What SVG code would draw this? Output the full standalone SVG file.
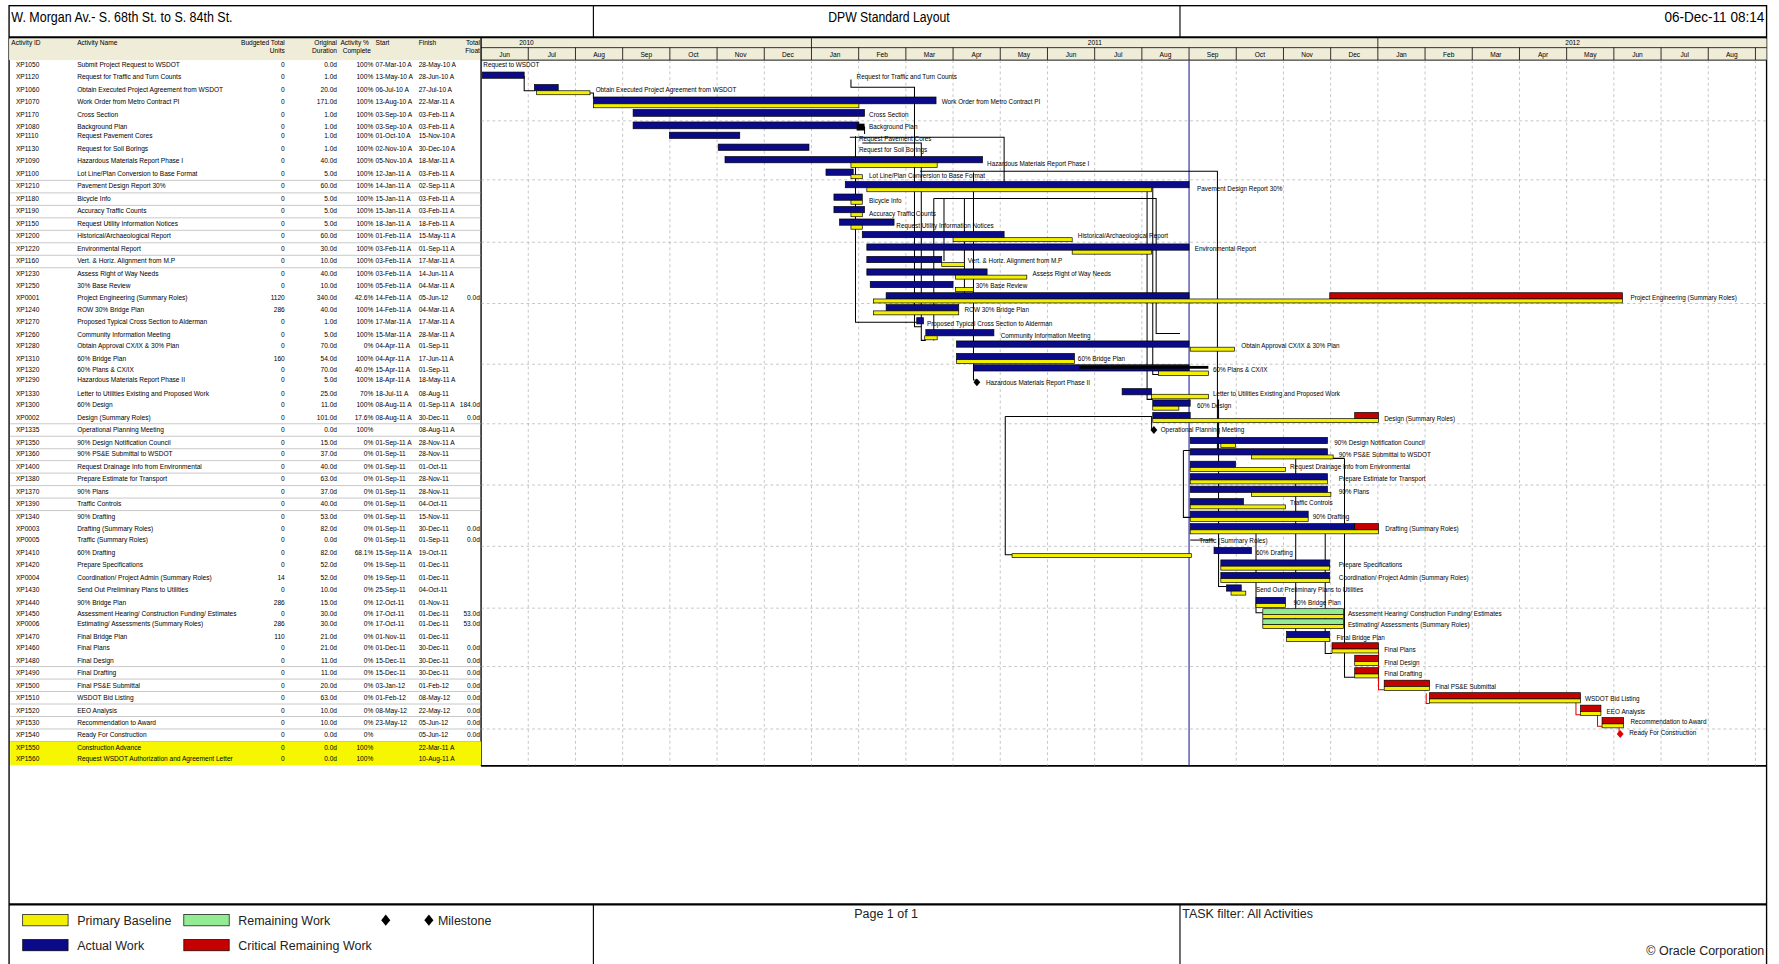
<svg xmlns="http://www.w3.org/2000/svg" width="1779" height="964" viewBox="0 0 1779 964">
<defs>
<style>
.t{font-family:'Liberation Sans Narrow','Liberation Sans',Arial,sans-serif;font-size:5.8px;fill:#000}
.e{text-anchor:end}
.c{text-anchor:middle}
.cl{font-family:'Liberation Sans Narrow','Liberation Sans',Arial,sans-serif;font-size:5.6px;fill:#000}
.act{fill:#0b0b8a;stroke:#000;stroke-width:0.6}
.bas{fill:#f2f000;stroke:#000;stroke-width:0.6}
.crt{fill:#c40000;stroke:#000;stroke-width:0.6}
.rem{fill:#93ec93;stroke:#000;stroke-width:0.6}
.con{fill:none;stroke:#000;stroke-width:0.9}
.rc{fill:none;stroke:#e00000;stroke-width:0.9}
.grid{fill:none;stroke:#9a9a9a;stroke-width:0.5;stroke-dasharray:2.5 2.5}
.sel{fill:none;stroke:#a0a0a0;stroke-width:0.5}
.hdr{fill:#efecd8}
.bd{fill:none;stroke:#000;stroke-width:1.2}
.big{font-family:'Liberation Sans Narrow','Liberation Sans',Arial,sans-serif;font-size:12.5px;fill:#000}
.lg{font-family:'Liberation Sans Narrow','Liberation Sans',Arial,sans-serif;font-size:11px;fill:#222}
</style>
<path id="ms" d="M0,-3.5L3,0L0,3.5L-3,0Z"/>
<path id="msl" d="M0,-5L4,0L0,5L-4,0Z"/>
</defs>
<rect width="1779" height="964" fill="#fff"/>
<g transform="scale(1.1346)">
<g id="frame">
<rect class="bd" x="8" y="5" width="1549" height="860"/>
<line x1="8" y1="33" x2="1557" y2="33" stroke="#000" stroke-width="2"/>
<line x1="523" y1="5" x2="523" y2="33" stroke="#000" stroke-width="1"/>
<line x1="1040" y1="5" x2="1040" y2="33" stroke="#000" stroke-width="1"/>
<text class="big" x="10" y="19" textLength="195" lengthAdjust="spacingAndGlyphs">W. Morgan Av.- S. 68th St. to S. 84th St.</text>
<text class="big" x="730" y="19" textLength="107" lengthAdjust="spacingAndGlyphs">DPW Standard Layout</text>
<text class="big" x="1467" y="19" textLength="88" lengthAdjust="spacingAndGlyphs">06-Dec-11 08:14</text>
<rect class="hdr" x="8" y="34" width="416" height="19"/>
<rect class="hdr" x="424" y="34" width="1133" height="8"/>
<rect class="hdr" x="424" y="42" width="1133" height="11"/>
<line x1="424" y1="42" x2="1557" y2="42" stroke="#000" stroke-width="0.7"/>
<line x1="424" y1="53" x2="1557" y2="53" stroke="#000" stroke-width="0.8"/>
<line x1="424" y1="33" x2="424" y2="675" stroke="#000" stroke-width="1.2"/>
<line x1="424" y1="675" x2="1557" y2="675" stroke="#000" stroke-width="1.4"/>
<line x1="8" y1="797" x2="1557" y2="797" stroke="#000" stroke-width="2"/>
<line x1="523" y1="797" x2="523" y2="865" stroke="#000" stroke-width="1"/>
<line x1="1040" y1="797" x2="1040" y2="865" stroke="#000" stroke-width="1"/>
</g>
<g id="table-header">
<text class="t" x="10" y="40">Activity ID</text>
<text class="t" x="68" y="40">Activity Name</text>
<text class="t e" x="251" y="40">Budgeted Total</text>
<text class="t e" x="251" y="47">Units</text>
<text class="t e" x="297" y="40">Original</text>
<text class="t e" x="297" y="47">Duration</text>
<text class="t" x="300" y="40">Activity % </text>
<text class="t" x="302" y="47">Complete</text>
<text class="t" x="331" y="40">Start</text>
<text class="t" x="369" y="40">Finish</text>
<text class="t e" x="423" y="40">Total</text>
<text class="t e" x="423" y="47">Float</text>
</g>
<g id="timescale">
<line x1="715.2" y1="33" x2="715.2" y2="42" stroke="#000" stroke-width="0.7"/>
<line x1="1214.4" y1="33" x2="1214.4" y2="42" stroke="#000" stroke-width="0.7"/>
<text class="t c" x="464" y="40">2010</text>
<text class="t c" x="965" y="40">2011</text>
<text class="t c" x="1386" y="40">2012</text>
<path d="M465.6 42V53M507.2 42V53M548.8 42V53M590.4 42V53M632 42V53M673.6 42V53M715.2 42V53M756.8 42V53M798.4 42V53M840 42V53M881.6 42V53M923.2 42V53M964.8 42V53M1006.4 42V53M1048 42V53M1089.6 42V53M1131.2 42V53M1172.8 42V53M1214.4 42V53M1256 42V53M1297.6 42V53M1339.2 42V53M1380.8 42V53M1422.4 42V53M1464 42V53M1505.6 42V53M1547.2 42V53" stroke="#000" stroke-width="0.7"/>
<g class="t c">
<text x="444.8" y="50">Jun</text><text x="486.4" y="50">Jul</text><text x="528" y="50">Aug</text><text x="569.6" y="50">Sep</text><text x="611.2" y="50">Oct</text><text x="652.8" y="50">Nov</text><text x="694.4" y="50">Dec</text><text x="736" y="50">Jan</text><text x="777.6" y="50">Feb</text><text x="819.2" y="50">Mar</text><text x="860.8" y="50">Apr</text><text x="902.4" y="50">May</text><text x="944" y="50">Jun</text><text x="985.6" y="50">Jul</text><text x="1027.2" y="50">Aug</text><text x="1068.8" y="50">Sep</text><text x="1110.4" y="50">Oct</text><text x="1152" y="50">Nov</text><text x="1193.6" y="50">Dec</text><text x="1235.2" y="50">Jan</text><text x="1276.8" y="50">Feb</text><text x="1318.4" y="50">Mar</text><text x="1360" y="50">Apr</text><text x="1401.6" y="50">May</text><text x="1443.2" y="50">Jun</text><text x="1484.8" y="50">Jul</text><text x="1526.4" y="50">Aug</text>
</g>
</g>
<g id="grid">
<path class="grid" d="M465.6 53V675M507.2 53V675M548.8 53V675M590.4 53V675M632 53V675M673.6 53V675M715.2 53V675M756.8 53V675M798.4 53V675M840 53V675M881.6 53V675M923.2 53V675M964.8 53V675M1006.4 53V675M1089.6 53V675M1131.2 53V675M1172.8 53V675M1214.4 53V675M1256 53V675M1297.6 53V675M1339.2 53V675M1380.8 53V675M1422.4 53V675M1464 53V675M1505.6 53V675M1547.2 53V675"/>
<path class="grid" d="M424 106.5H1557M424 158.5H1557M424 213.5H1557M424 267.5H1557M424 321H1557M424 373.5H1557M424 427.5H1557M424 481.5H1557M424 536H1557M424 587.5H1557M424 642.5H1557"/>
<line x1="1048" y1="53" x2="1048" y2="675" stroke="#2a2aa0" stroke-width="1"/>
</g>
<g id="row-bands">
<rect x="9" y="653.5" width="415" height="21" fill="#f6f600"/>
<path class="sel" d="M9 159H424M9 170H424M9 181H424M9 192H424M9 203H424M9 214H424M9 225H424M9 236H424M9 373.5H424M9 384.5H424M9 395.5H424M9 406H424M9 417H424M9 428H424M9 439H424M9 450H424M9 587.5H424M9 598.5H424M9 609.5H424M9 620.5H424M9 631.5H424M9 642.5H424M9 653.5H424"/>
</g>
<g id="connectors">
<path class="con" d="M462 67V80H471"/>
<path class="con" d="M520 82H523V87"/>
<path class="con" d="M750 70V77H806V288H812"/>
<path class="con" d="M755 112H762V118"/>
<path class="con" d="M754 120V284H808"/>
<path class="con" d="M760 126H812V300H816"/>
<path class="con" d="M749 121H885V166"/>
<path class="con" d="M811 151H1073V398"/>
<path class="con" d="M823 175H1019V294H1040"/>
<path class="con" d="M823 175V300"/>
<path class="con" d="M832 175V230"/>
<path class="con" d="M850 175V259"/>
<path class="con" d="M858 152V335H861"/>
<path class="con" d="M1011 163V352H1016"/>
<path class="con" d="M1016 165V330H1021"/>
<path class="con" d="M886 367H1015V379"/>
<path class="con" d="M886 367V489H892"/>
<path class="con" d="M1043 397H1049M1043 397V456H1049"/>
<path class="con" d="M1074 352V517H1081"/>
<path class="con" d="M1107 463V540H1113"/>
<path class="con" d="M1142 404H1185M1142 404V558H1150"/>
<path class="con" d="M1168 464V576H1174"/>
<path class="con" d="M1185 404V597H1194"/>
<path class="con" d="M1049 476H1070"/>
<path class="rc" d="M1215 574V608H1220"/>
<path class="rc" d="M1215 584V590M1215 595V600"/>
<path class="rc" d="M1257 611V620H1260"/>
<path class="rc" d="M1389 618V630H1393"/>
<path class="rc" d="M1408 629V640H1412"/>
<path class="rc" d="M1427 640V646"/>
</g>
<g id="r00"><text class="t" x="14" y="59">XP1050</text><text class="t" x="68" y="59">Submit Project Request to WSDOT</text><text class="t e" x="251" y="59">0</text><text class="t e" x="297" y="59">0.0d</text><text class="t e" x="329" y="59">100%</text><text class="t" x="331" y="59">07-Mar-10 A</text><text class="t" x="369" y="59">28-May-10 A</text><text class="cl" x="426" y="59">Request to WSDOT</text></g>
<g id="r01"><text class="t" x="14" y="70">XP1120</text><text class="t" x="68" y="70">Request for Traffic and Turn Counts</text><text class="t e" x="251" y="70">0</text><text class="t e" x="297" y="70">1.0d</text><text class="t e" x="329" y="70">100%</text><text class="t" x="331" y="70">13-May-10 A</text><text class="t" x="369" y="70">28-Jun-10 A</text><rect class="act" x="425" y="63.5" width="37" height="5.5"/><text class="cl" x="755" y="70">Request for Traffic and Turn Counts</text></g>
<g id="r02"><text class="t" x="14" y="81">XP1060</text><text class="t" x="68" y="81">Obtain Executed Project Agreement from WSDOT</text><text class="t e" x="251" y="81">0</text><text class="t e" x="297" y="81">20.0d</text><text class="t e" x="329" y="81">100%</text><text class="t" x="331" y="81">06-Jul-10 A</text><text class="t" x="369" y="81">27-Jul-10 A</text><rect class="act" x="471" y="74.5" width="21" height="5.5"/><rect class="bas" x="473" y="80" width="47" height="3.5"/><text class="cl" x="525" y="81">Obtain Executed Project Agreement from WSDOT</text></g>
<g id="r03"><text class="t" x="14" y="92">XP1070</text><text class="t" x="68" y="92">Work Order from Metro Contract PI</text><text class="t e" x="251" y="92">0</text><text class="t e" x="297" y="92">171.0d</text><text class="t e" x="329" y="92">100%</text><text class="t" x="331" y="92">13-Aug-10 A</text><text class="t" x="369" y="92">22-Mar-11 A</text><rect class="act" x="523" y="85.5" width="302" height="6"/><rect class="bas" x="523" y="91.5" width="234" height="3.5"/><text class="cl" x="830" y="92">Work Order from Metro Contract PI</text></g>
<g id="r04"><text class="t" x="14" y="103">XP1170</text><text class="t" x="68" y="103">Cross Section</text><text class="t e" x="251" y="103">0</text><text class="t e" x="297" y="103">1.0d</text><text class="t e" x="329" y="103">100%</text><text class="t" x="331" y="103">03-Sep-10 A</text><text class="t" x="369" y="103">03-Feb-11 A</text><rect class="act" x="558" y="96.5" width="204" height="6"/><text class="cl" x="766" y="103">Cross Section</text></g>
<g id="r05"><text class="t" x="14" y="114">XP1080</text><text class="t" x="68" y="114">Background Plan</text><text class="t e" x="251" y="114">0</text><text class="t e" x="297" y="114">1.0d</text><text class="t e" x="329" y="114">100%</text><text class="t" x="331" y="114">03-Sep-10 A</text><text class="t" x="369" y="114">03-Feb-11 A</text><rect class="act" x="558" y="107.5" width="199" height="6"/><rect x="755" y="109" width="7" height="6" fill="#000"/><text class="cl" x="766" y="114">Background Plan</text></g>
<g id="r06"><text class="t" x="14" y="122">XP1110</text><text class="t" x="68" y="122">Request Pavement Cores</text><text class="t e" x="251" y="122">0</text><text class="t e" x="297" y="122">1.0d</text><text class="t e" x="329" y="122">100%</text><text class="t" x="331" y="122">01-Oct-10 A</text><text class="t" x="369" y="122">15-Nov-10 A</text><rect class="act" x="590" y="116.5" width="62" height="5.5"/><text class="cl" x="757" y="124">Request Pavement Cores</text></g>
<g id="r07"><text class="t" x="14" y="133">XP1130</text><text class="t" x="68" y="133">Request for Soil Borings</text><text class="t e" x="251" y="133">0</text><text class="t e" x="297" y="133">1.0d</text><text class="t e" x="329" y="133">100%</text><text class="t" x="331" y="133">02-Nov-10 A</text><text class="t" x="369" y="133">30-Dec-10 A</text><rect class="act" x="633" y="127" width="80" height="5.5"/><text class="cl" x="757" y="134">Request for Soil Borings</text></g>
<g id="r08"><text class="t" x="14" y="144">XP1090</text><text class="t" x="68" y="144">Hazardous Materials Report Phase I</text><text class="t e" x="251" y="144">0</text><text class="t e" x="297" y="144">40.0d</text><text class="t e" x="329" y="144">100%</text><text class="t" x="331" y="144">05-Nov-10 A</text><text class="t" x="369" y="144">18-Mar-11 A</text><rect class="act" x="639" y="138" width="227" height="5.5"/><rect class="bas" x="750" y="143.5" width="76" height="4"/><text class="cl" x="870" y="146">Hazardous Materials Report Phase I</text></g>
<g id="r09"><text class="t" x="14" y="155">XP1100</text><text class="t" x="68" y="155">Lot Line/Plan Conversion to Base Format</text><text class="t e" x="251" y="155">0</text><text class="t e" x="297" y="155">5.0d</text><text class="t e" x="329" y="155">100%</text><text class="t" x="331" y="155">12-Jan-11 A</text><text class="t" x="369" y="155">03-Feb-11 A</text><rect class="act" x="728" y="149" width="24" height="5.5"/><rect class="bas" x="750" y="154" width="10" height="3.5"/><text class="cl" x="766" y="157">Lot Line/Plan Conversion to Base Format</text></g>
<g id="r10"><text class="t" x="14" y="166">XP1210</text><text class="t" x="68" y="166">Pavement Design Report 30%</text><text class="t e" x="251" y="166">0</text><text class="t e" x="297" y="166">60.0d</text><text class="t e" x="329" y="166">100%</text><text class="t" x="331" y="166">14-Jan-11 A</text><text class="t" x="369" y="166">02-Sep-11 A</text><rect class="act" x="745" y="160" width="303" height="5.5"/><rect class="bas" x="764" y="165.5" width="251" height="3.5"/><text class="cl" x="1055" y="168">Pavement Design Report 30%</text></g>
<g id="r11"><text class="t" x="14" y="177">XP1180</text><text class="t" x="68" y="177">Bicycle Info</text><text class="t e" x="251" y="177">0</text><text class="t e" x="297" y="177">5.0d</text><text class="t e" x="329" y="177">100%</text><text class="t" x="331" y="177">15-Jan-11 A</text><text class="t" x="369" y="177">03-Feb-11 A</text><rect class="act" x="735" y="171" width="25" height="5.5"/><rect class="bas" x="750" y="176.5" width="10" height="3.5"/><text class="cl" x="766" y="179">Bicycle Info</text></g>
<g id="r12"><text class="t" x="14" y="188">XP1190</text><text class="t" x="68" y="188">Accuracy Traffic Counts</text><text class="t e" x="251" y="188">0</text><text class="t e" x="297" y="188">5.0d</text><text class="t e" x="329" y="188">100%</text><text class="t" x="331" y="188">15-Jan-11 A</text><text class="t" x="369" y="188">03-Feb-11 A</text><rect class="act" x="735" y="182" width="27" height="5.5"/><rect class="bas" x="750" y="187.5" width="10" height="3.5"/><text class="cl" x="766" y="190">Accuracy Traffic Counts</text></g>
<g id="r13"><text class="t" x="14" y="199">XP1150</text><text class="t" x="68" y="199">Request Utility Information Notices</text><text class="t e" x="251" y="199">0</text><text class="t e" x="297" y="199">5.0d</text><text class="t e" x="329" y="199">100%</text><text class="t" x="331" y="199">18-Jan-11 A</text><text class="t" x="369" y="199">18-Feb-11 A</text><rect class="act" x="740" y="193" width="48" height="5.5"/><rect class="bas" x="750" y="198.5" width="10" height="3.5"/><text class="cl" x="790" y="201">Request Utility Information Notices</text></g>
<g id="r14"><text class="t" x="14" y="210">XP1200</text><text class="t" x="68" y="210">Historical/Archaeological Report</text><text class="t e" x="251" y="210">0</text><text class="t e" x="297" y="210">60.0d</text><text class="t e" x="329" y="210">100%</text><text class="t" x="331" y="210">01-Feb-11 A</text><text class="t" x="369" y="210">15-May-11 A</text><rect class="act" x="760" y="204" width="125" height="5.5"/><rect class="bas" x="840" y="209.5" width="105" height="3.5"/><text class="cl" x="950" y="210">Historical/Archaeological Report</text></g>
<g id="r15"><text class="t" x="14" y="221">XP1220</text><text class="t" x="68" y="221">Environmental Report</text><text class="t e" x="251" y="221">0</text><text class="t e" x="297" y="221">30.0d</text><text class="t e" x="329" y="221">100%</text><text class="t" x="331" y="221">03-Feb-11 A</text><text class="t" x="369" y="221">01-Sep-11 A</text><rect class="act" x="764" y="215" width="284" height="5.5"/><rect class="bas" x="945" y="220.5" width="70" height="3.5"/><text class="cl" x="1053" y="221">Environmental Report</text></g>
<g id="r16"><text class="t" x="14" y="232">XP1160</text><text class="t" x="68" y="232">Vert. &amp; Horiz. Alignment from M.P</text><text class="t e" x="251" y="232">0</text><text class="t e" x="297" y="232">10.0d</text><text class="t e" x="329" y="232">100%</text><text class="t" x="331" y="232">03-Feb-11 A</text><text class="t" x="369" y="232">17-Mar-11 A</text><rect class="act" x="764" y="226" width="66" height="5.5"/><rect class="bas" x="830" y="231.5" width="20" height="3.5"/><text class="cl" x="853" y="232">Vert. &amp; Horiz. Alignment from M.P</text></g>
<g id="r17"><text class="t" x="14" y="243">XP1230</text><text class="t" x="68" y="243">Assess Right of Way Needs</text><text class="t e" x="251" y="243">0</text><text class="t e" x="297" y="243">40.0d</text><text class="t e" x="329" y="243">100%</text><text class="t" x="331" y="243">03-Feb-11 A</text><text class="t" x="369" y="243">14-Jun-11 A</text><rect class="act" x="764" y="237" width="106" height="5.5"/><rect class="bas" x="842" y="242.5" width="63" height="3.5"/><text class="cl" x="910" y="243">Assess Right of Way Needs</text></g>
<g id="r18"><text class="t" x="14" y="254">XP1250</text><text class="t" x="68" y="254">30% Base Review</text><text class="t e" x="251" y="254">0</text><text class="t e" x="297" y="254">10.0d</text><text class="t e" x="329" y="254">100%</text><text class="t" x="331" y="254">05-Feb-11 A</text><text class="t" x="369" y="254">04-Mar-11 A</text><rect class="act" x="767" y="248" width="73" height="5.5"/><rect class="bas" x="842" y="253.5" width="16" height="3.5"/><text class="cl" x="860" y="254">30% Base Review</text></g>
<g id="r19"><text class="t" x="14" y="264">XP0001</text><text class="t" x="68" y="264">Project Engineering (Summary Roles)</text><text class="t e" x="251" y="264">1120</text><text class="t e" x="297" y="264">340.0d</text><text class="t e" x="329" y="264">42.6%</text><text class="t" x="331" y="264">14-Feb-11 A</text><text class="t" x="369" y="264">05-Jun-12</text><text class="t e" x="423" y="264">0.0d</text><rect class="act" x="781" y="258" width="267" height="5.5"/><rect class="crt" x="1172" y="258" width="258" height="5.5"/><rect class="bas" x="770" y="263.5" width="660" height="3.5"/><text class="cl" x="1437" y="264">Project Engineering (Summary Roles)</text></g>
<g id="r20"><text class="t" x="14" y="275">XP1240</text><text class="t" x="68" y="275">ROW 30% Bridge Plan</text><text class="t e" x="251" y="275">286</text><text class="t e" x="297" y="275">40.0d</text><text class="t e" x="329" y="275">100%</text><text class="t" x="331" y="275">14-Feb-11 A</text><text class="t" x="369" y="275">04-Mar-11 A</text><rect class="act" x="781" y="268.5" width="64" height="5.5"/><rect class="bas" x="770" y="274" width="75" height="3.5"/><text class="cl" x="850" y="275">ROW 30% Bridge Plan</text></g>
<g id="r21"><text class="t" x="14" y="286">XP1270</text><text class="t" x="68" y="286">Proposed Typical Cross Section to Alderman</text><text class="t e" x="251" y="286">0</text><text class="t e" x="297" y="286">1.0d</text><text class="t e" x="329" y="286">100%</text><text class="t" x="331" y="286">17-Mar-11 A</text><text class="t" x="369" y="286">17-Mar-11 A</text><rect class="act" x="808" y="280" width="6" height="5.5"/><text class="cl" x="817" y="287">Proposed Typical Cross Section to Alderman</text></g>
<g id="r22"><text class="t" x="14" y="297">XP1260</text><text class="t" x="68" y="297">Community Information Meeting</text><text class="t e" x="251" y="297">0</text><text class="t e" x="297" y="297">5.0d</text><text class="t e" x="329" y="297">100%</text><text class="t" x="331" y="297">15-Mar-11 A</text><text class="t" x="369" y="297">28-Mar-11 A</text><rect class="act" x="816" y="290.5" width="60" height="5.5"/><rect class="bas" x="815" y="296" width="11" height="3.5"/><text class="cl" x="882" y="298">Community Information Meeting</text></g>
<g id="r23"><text class="t" x="14" y="307">XP1280</text><text class="t" x="68" y="307">Obtain Approval CX/IX &amp; 30% Plan</text><text class="t e" x="251" y="307">0</text><text class="t e" x="297" y="307">70.0d</text><text class="t e" x="329" y="307">0%</text><text class="t" x="331" y="307">04-Apr-11 A</text><text class="t" x="369" y="307">01-Sep-11</text><rect class="act" x="843" y="300.5" width="205" height="5.5"/><rect class="bas" x="1049" y="306" width="39" height="3.5"/><text class="cl" x="1094" y="307">Obtain Approval CX/IX &amp; 30% Plan</text></g>
<g id="r24"><text class="t" x="14" y="318">XP1310</text><text class="t" x="68" y="318">60% Bridge Plan</text><text class="t e" x="251" y="318">160</text><text class="t e" x="297" y="318">54.0d</text><text class="t e" x="329" y="318">100%</text><text class="t" x="331" y="318">04-Apr-11 A</text><text class="t" x="369" y="318">17-Jun-11 A</text><rect class="act" x="843" y="311.5" width="104" height="5.5"/><rect class="bas" x="843" y="317" width="104" height="3.5"/><text class="cl" x="950" y="318">60% Bridge Plan</text></g>
<g id="r25"><text class="t" x="14" y="328">XP1320</text><text class="t" x="68" y="328">60% Plans &amp; CX/IX</text><text class="t e" x="251" y="328">0</text><text class="t e" x="297" y="328">70.0d</text><text class="t e" x="329" y="328">40.0%</text><text class="t" x="331" y="328">15-Apr-11 A</text><text class="t" x="369" y="328">01-Sep-11</text><rect class="act" x="858" y="321.5" width="190" height="5.5"/><rect x="951" y="322.5" width="114" height="2.5" fill="#000"/><rect class="bas" x="1021" y="327" width="44" height="4"/><text class="cl" x="1069" y="328">60% Plans &amp; CX/IX</text></g>
<g id="r26"><text class="t" x="14" y="337">XP1290</text><text class="t" x="68" y="337">Hazardous Materials Report Phase II</text><text class="t e" x="251" y="337">0</text><text class="t e" x="297" y="337">5.0d</text><text class="t e" x="329" y="337">100%</text><text class="t" x="331" y="337">18-Apr-11 A</text><text class="t" x="369" y="337">18-May-11 A</text><use href="#ms" x="861" y="337" fill="#000"/><text class="cl" x="869" y="339">Hazardous Materials Report Phase II</text></g>
<g id="r27"><text class="t" x="14" y="349">XP1330</text><text class="t" x="68" y="349">Letter to Utilities Existing and Proposed Work</text><text class="t e" x="251" y="349">0</text><text class="t e" x="297" y="349">25.0d</text><text class="t e" x="329" y="349">70%</text><text class="t" x="331" y="349">18-Jul-11 A</text><text class="t" x="369" y="349">08-Aug-11</text><rect class="act" x="989" y="342.5" width="26" height="5.5"/><rect class="bas" x="1015" y="347.5" width="50" height="4"/><text class="cl" x="1069" y="349">Letter to Utilities Existing and Proposed Work</text></g>
<g id="r28"><text class="t" x="14" y="359">XP1300</text><text class="t" x="68" y="359">60% Design</text><text class="t e" x="251" y="359">0</text><text class="t e" x="297" y="359">11.0d</text><text class="t e" x="329" y="359">100%</text><text class="t" x="331" y="359">08-Aug-11 A</text><text class="t" x="369" y="359">01-Sep-11 A</text><text class="t e" x="423" y="359">184.0d</text><rect class="act" x="1016" y="352.5" width="33" height="5.5"/><rect class="bas" x="1016" y="358" width="23" height="3.5"/><text class="cl" x="1055" y="360">60% Design</text></g>
<g id="r29"><text class="t" x="14" y="370">XP0002</text><text class="t" x="68" y="370">Design (Summary Roles)</text><text class="t e" x="251" y="370">0</text><text class="t e" x="297" y="370">101.0d</text><text class="t e" x="329" y="370">17.6%</text><text class="t" x="331" y="370">08-Aug-11 A</text><text class="t" x="369" y="370">30-Dec-11</text><text class="t e" x="423" y="370">0.0d</text><rect class="act" x="1016" y="363.5" width="33" height="5.5"/><rect class="crt" x="1194" y="363.5" width="21" height="5.5"/><rect class="bas" x="1016" y="369" width="199" height="3.5"/><text class="cl" x="1220" y="371">Design (Summary Roles)</text></g>
<g id="r30"><text class="t" x="14" y="381">XP1335</text><text class="t" x="68" y="381">Operational Planning Meeting</text><text class="t e" x="251" y="381">0</text><text class="t e" x="297" y="381">0.0d</text><text class="t e" x="329" y="381">100%</text><text class="t" x="369" y="381">08-Aug-11 A</text><use href="#ms" x="1017" y="379" fill="#000"/><text class="cl" x="1023" y="381">Operational Planning Meeting</text></g>
<g id="r31"><text class="t" x="14" y="392">XP1350</text><text class="t" x="68" y="392">90% Design Notification Council</text><text class="t e" x="251" y="392">0</text><text class="t e" x="297" y="392">15.0d</text><text class="t e" x="329" y="392">0%</text><text class="t" x="331" y="392">01-Sep-11 A</text><text class="t" x="369" y="392">28-Nov-11 A</text><rect class="act" x="1049" y="385.5" width="121" height="5.5"/><rect class="bas" x="1076" y="391" width="13" height="3.5"/><text class="cl" x="1176" y="392">90% Design Notification Council</text></g>
<g id="r32"><text class="t" x="14" y="402">XP1360</text><text class="t" x="68" y="402">90% PS&amp;E Submittal to WSDOT</text><text class="t e" x="251" y="402">0</text><text class="t e" x="297" y="402">37.0d</text><text class="t e" x="329" y="402">0%</text><text class="t" x="331" y="402">01-Sep-11</text><text class="t" x="369" y="402">28-Nov-11</text><rect class="act" x="1049" y="395.5" width="121" height="5.5"/><rect class="bas" x="1103" y="401" width="72" height="3.5"/><text class="cl" x="1180" y="403">90% PS&amp;E Submittal to WSDOT</text></g>
<g id="r33"><text class="t" x="14" y="413">XP1400</text><text class="t" x="68" y="413">Request Drainage Info from Environmental</text><text class="t e" x="251" y="413">0</text><text class="t e" x="297" y="413">40.0d</text><text class="t e" x="329" y="413">0%</text><text class="t" x="331" y="413">01-Sep-11</text><text class="t" x="369" y="413">01-Oct-11</text><rect class="act" x="1049" y="406.5" width="40" height="5.5"/><rect class="bas" x="1049" y="412" width="84" height="3.5"/><text class="cl" x="1137" y="413">Request Drainage Info from Environmental</text></g>
<g id="r34"><text class="t" x="14" y="424">XP1380</text><text class="t" x="68" y="424">Prepare Estimate for Transport</text><text class="t e" x="251" y="424">0</text><text class="t e" x="297" y="424">63.0d</text><text class="t e" x="329" y="424">0%</text><text class="t" x="331" y="424">01-Sep-11</text><text class="t" x="369" y="424">28-Nov-11</text><rect class="act" x="1049" y="417.5" width="121" height="5.5"/><rect class="bas" x="1049" y="423" width="121" height="3.5"/><text class="cl" x="1180" y="424">Prepare Estimate for Transport</text></g>
<g id="r35"><text class="t" x="14" y="435">XP1370</text><text class="t" x="68" y="435">90% Plans</text><text class="t e" x="251" y="435">0</text><text class="t e" x="297" y="435">37.0d</text><text class="t e" x="329" y="435">0%</text><text class="t" x="331" y="435">01-Sep-11</text><text class="t" x="369" y="435">28-Nov-11</text><rect class="act" x="1049" y="428.5" width="121" height="5.5"/><rect class="bas" x="1103" y="434" width="70" height="3.5"/><text class="cl" x="1180" y="435">90% Plans</text></g>
<g id="r36"><text class="t" x="14" y="446">XP1390</text><text class="t" x="68" y="446">Traffic Controls</text><text class="t e" x="251" y="446">0</text><text class="t e" x="297" y="446">40.0d</text><text class="t e" x="329" y="446">0%</text><text class="t" x="331" y="446">01-Sep-11</text><text class="t" x="369" y="446">04-Oct-11</text><rect class="act" x="1049" y="439.5" width="47" height="5.5"/><rect class="bas" x="1049" y="445" width="84" height="3.5"/><text class="cl" x="1137" y="445">Traffic Controls</text></g>
<g id="r37"><text class="t" x="14" y="457">XP1340</text><text class="t" x="68" y="457">90% Drafting</text><text class="t e" x="251" y="457">0</text><text class="t e" x="297" y="457">53.0d</text><text class="t e" x="329" y="457">0%</text><text class="t" x="331" y="457">01-Sep-11</text><text class="t" x="369" y="457">15-Nov-11</text><rect class="act" x="1049" y="450.5" width="104" height="5.5"/><rect class="bas" x="1049" y="456" width="104" height="3.5"/><text class="cl" x="1157" y="457">90% Drafting</text></g>
<g id="r38"><text class="t" x="14" y="468">XP0003</text><text class="t" x="68" y="468">Drafting (Summary Roles)</text><text class="t e" x="251" y="468">0</text><text class="t e" x="297" y="468">82.0d</text><text class="t e" x="329" y="468">0%</text><text class="t" x="331" y="468">01-Sep-11</text><text class="t" x="369" y="468">30-Dec-11</text><text class="t e" x="423" y="468">0.0d</text><rect class="act" x="1049" y="461.5" width="145" height="5.5"/><rect class="crt" x="1194" y="461.5" width="21" height="5.5"/><rect class="bas" x="1049" y="467" width="166" height="3.5"/><text class="cl" x="1221" y="468">Drafting (Summary Roles)</text></g>
<g id="r39"><text class="t" x="14" y="478">XP0005</text><text class="t" x="68" y="478">Traffic (Summary Roles)</text><text class="t e" x="251" y="478">0</text><text class="t e" x="297" y="478">0.0d</text><text class="t e" x="329" y="478">0%</text><text class="t" x="331" y="478">01-Sep-11</text><text class="t" x="369" y="478">01-Sep-11</text><text class="t e" x="423" y="478">0.0d</text><text class="cl" x="1057" y="479">Traffic (Summary Roles)</text></g>
<g id="r40"><text class="t" x="14" y="489">XP1410</text><text class="t" x="68" y="489">60% Drafting</text><text class="t e" x="251" y="489">0</text><text class="t e" x="297" y="489">82.0d</text><text class="t e" x="329" y="489">68.1%</text><text class="t" x="331" y="489">15-Sep-11 A</text><text class="t" x="369" y="489">19-Oct-11</text><rect class="act" x="1070" y="482.5" width="33" height="5.5"/><rect class="bas" x="892" y="488" width="158" height="3.5"/><text class="cl" x="1107" y="489">60% Drafting</text></g>
<g id="r41"><text class="t" x="14" y="500">XP1420</text><text class="t" x="68" y="500">Prepare Specifications</text><text class="t e" x="251" y="500">0</text><text class="t e" x="297" y="500">52.0d</text><text class="t e" x="329" y="500">0%</text><text class="t" x="331" y="500">19-Sep-11</text><text class="t" x="369" y="500">01-Dec-11</text><rect class="act" x="1076" y="493.5" width="96" height="5.5"/><rect class="bas" x="1076" y="499" width="96" height="3.5"/><text class="cl" x="1180" y="500">Prepare Specifications</text></g>
<g id="r42"><text class="t" x="14" y="511">XP0004</text><text class="t" x="68" y="511">Coordination/ Project Admin (Summary Roles)</text><text class="t e" x="251" y="511">14</text><text class="t e" x="297" y="511">52.0d</text><text class="t e" x="329" y="511">0%</text><text class="t" x="331" y="511">19-Sep-11</text><text class="t" x="369" y="511">01-Dec-11</text><rect class="act" x="1076" y="504.5" width="96" height="5.5"/><rect class="bas" x="1076" y="510" width="96" height="3.5"/><text class="cl" x="1180" y="511">Coordination/ Project Admin (Summary Roles)</text></g>
<g id="r43"><text class="t" x="14" y="522">XP1430</text><text class="t" x="68" y="522">Send Out Preliminary Plans to Utilities</text><text class="t e" x="251" y="522">0</text><text class="t e" x="297" y="522">10.0d</text><text class="t e" x="329" y="522">0%</text><text class="t" x="331" y="522">25-Sep-11</text><text class="t" x="369" y="522">04-Oct-11</text><rect class="act" x="1081" y="515.5" width="13" height="5.5"/><rect class="bas" x="1085" y="521" width="13" height="3.5"/><text class="cl" x="1107" y="522">Send Out Preliminary Plans to Utilities</text></g>
<g id="r44"><text class="t" x="14" y="533">XP1440</text><text class="t" x="68" y="533">90% Bridge Plan</text><text class="t e" x="251" y="533">286</text><text class="t e" x="297" y="533">15.0d</text><text class="t e" x="329" y="533">0%</text><text class="t" x="331" y="533">12-Oct-11</text><text class="t" x="369" y="533">01-Nov-11</text><rect class="act" x="1107" y="526.5" width="26" height="5.5"/><rect class="bas" x="1107" y="532" width="26" height="3.5"/><text class="cl" x="1140" y="533">90% Bridge Plan</text></g>
<g id="r45"><text class="t" x="14" y="543">XP1450</text><text class="t" x="68" y="543">Assessment Hearing/ Construction Funding/ Estimates</text><text class="t e" x="251" y="543">0</text><text class="t e" x="297" y="543">30.0d</text><text class="t e" x="329" y="543">0%</text><text class="t" x="331" y="543">17-Oct-11</text><text class="t" x="369" y="543">01-Dec-11</text><text class="t e" x="423" y="543">53.0d</text><rect class="rem" x="1113" y="536.5" width="71" height="5"/><rect class="bas" x="1113" y="541.5" width="71" height="3.5"/><text class="cl" x="1188" y="543">Assessment Hearing/ Construction Funding/ Estimates</text></g>
<g id="r46"><text class="t" x="14" y="552">XP0006</text><text class="t" x="68" y="552">Estimating/ Assessments (Summary Roles)</text><text class="t e" x="251" y="552">286</text><text class="t e" x="297" y="552">30.0d</text><text class="t e" x="329" y="552">0%</text><text class="t" x="331" y="552">17-Oct-11</text><text class="t" x="369" y="552">01-Dec-11</text><text class="t e" x="423" y="552">53.0d</text><rect class="rem" x="1113" y="545.5" width="71" height="5"/><rect class="bas" x="1113" y="550.5" width="71" height="3.5"/><text class="cl" x="1188" y="553">Estimating/ Assessments (Summary Roles)</text></g>
<g id="r47"><text class="t" x="14" y="563">XP1470</text><text class="t" x="68" y="563">Final Bridge Plan</text><text class="t e" x="251" y="563">110</text><text class="t e" x="297" y="563">21.0d</text><text class="t e" x="329" y="563">0%</text><text class="t" x="331" y="563">01-Nov-11</text><text class="t" x="369" y="563">01-Dec-11</text><rect class="act" x="1134" y="556.5" width="38" height="5.5"/><rect class="bas" x="1134" y="562" width="38" height="3.5"/><text class="cl" x="1178" y="564">Final Bridge Plan</text></g>
<g id="r48"><text class="t" x="14" y="573">XP1460</text><text class="t" x="68" y="573">Final Plans</text><text class="t e" x="251" y="573">0</text><text class="t e" x="297" y="573">21.0d</text><text class="t e" x="329" y="573">0%</text><text class="t" x="331" y="573">01-Dec-11</text><text class="t" x="369" y="573">30-Dec-11</text><text class="t e" x="423" y="573">0.0d</text><rect class="crt" x="1174" y="566.5" width="41" height="5.5"/><rect class="bas" x="1174" y="572" width="41" height="3.5"/><text class="cl" x="1220" y="575">Final Plans</text></g>
<g id="r49"><text class="t" x="14" y="584">XP1480</text><text class="t" x="68" y="584">Final Design</text><text class="t e" x="251" y="584">0</text><text class="t e" x="297" y="584">11.0d</text><text class="t e" x="329" y="584">0%</text><text class="t" x="331" y="584">15-Dec-11</text><text class="t" x="369" y="584">30-Dec-11</text><text class="t e" x="423" y="584">0.0d</text><rect class="crt" x="1194" y="577.5" width="21" height="5.5"/><rect class="bas" x="1194" y="583" width="21" height="3.5"/><text class="cl" x="1220" y="586">Final Design</text></g>
<g id="r50"><text class="t" x="14" y="595">XP1490</text><text class="t" x="68" y="595">Final Drafting</text><text class="t e" x="251" y="595">0</text><text class="t e" x="297" y="595">11.0d</text><text class="t e" x="329" y="595">0%</text><text class="t" x="331" y="595">15-Dec-11</text><text class="t" x="369" y="595">30-Dec-11</text><text class="t e" x="423" y="595">0.0d</text><rect class="crt" x="1194" y="588.5" width="21" height="5.5"/><rect class="bas" x="1194" y="594" width="21" height="3.5"/><text class="cl" x="1220" y="596">Final Drafting</text></g>
<g id="r51"><text class="t" x="14" y="606">XP1500</text><text class="t" x="68" y="606">Final PS&amp;E Submittal</text><text class="t e" x="251" y="606">0</text><text class="t e" x="297" y="606">20.0d</text><text class="t e" x="329" y="606">0%</text><text class="t" x="331" y="606">03-Jan-12</text><text class="t" x="369" y="606">01-Feb-12</text><text class="t e" x="423" y="606">0.0d</text><rect class="crt" x="1220" y="599.5" width="40" height="5.5"/><rect class="bas" x="1220" y="605" width="40" height="3.5"/><text class="cl" x="1265" y="607">Final PS&amp;E Submittal</text></g>
<g id="r52"><text class="t" x="14" y="617">XP1510</text><text class="t" x="68" y="617">WSDOT Bid Listing</text><text class="t e" x="251" y="617">0</text><text class="t e" x="297" y="617">63.0d</text><text class="t e" x="329" y="617">0%</text><text class="t" x="331" y="617">01-Feb-12</text><text class="t" x="369" y="617">08-May-12</text><text class="t e" x="423" y="617">0.0d</text><rect class="crt" x="1260" y="610.5" width="133" height="5.5"/><rect class="bas" x="1260" y="616" width="133" height="3.5"/><text class="cl" x="1397" y="618">WSDOT Bid Listing</text></g>
<g id="r53"><text class="t" x="14" y="628">XP1520</text><text class="t" x="68" y="628">EEO Analysis</text><text class="t e" x="251" y="628">0</text><text class="t e" x="297" y="628">10.0d</text><text class="t e" x="329" y="628">0%</text><text class="t" x="331" y="628">08-May-12</text><text class="t" x="369" y="628">22-May-12</text><text class="t e" x="423" y="628">0.0d</text><rect class="crt" x="1393" y="621.5" width="18" height="5.5"/><rect class="bas" x="1393" y="627" width="18" height="3.5"/><text class="cl" x="1416" y="629">EEO Analysis</text></g>
<g id="r54"><text class="t" x="14" y="639">XP1530</text><text class="t" x="68" y="639">Recommendation to Award</text><text class="t e" x="251" y="639">0</text><text class="t e" x="297" y="639">10.0d</text><text class="t e" x="329" y="639">0%</text><text class="t" x="331" y="639">23-May-12</text><text class="t" x="369" y="639">05-Jun-12</text><text class="t e" x="423" y="639">0.0d</text><rect class="crt" x="1412" y="632.5" width="19" height="5.5"/><rect class="bas" x="1412" y="638" width="19" height="3.5"/><text class="cl" x="1437" y="638">Recommendation to Award</text></g>
<g id="r55"><text class="t" x="14" y="650">XP1540</text><text class="t" x="68" y="650">Ready For Construction</text><text class="t e" x="251" y="650">0</text><text class="t e" x="297" y="650">0.0d</text><text class="t e" x="329" y="650">0%</text><text class="t" x="369" y="650">05-Jun-12</text><text class="t e" x="423" y="650">0.0d</text><use href="#ms" x="1428" y="647" fill="#e00000"/><text class="cl" x="1436" y="648">Ready For Construction</text></g>
<g id="r56"><text class="t" x="14" y="661">XP1550</text><text class="t" x="68" y="661">Construction Advance</text><text class="t e" x="251" y="661">0</text><text class="t e" x="297" y="661">0.0d</text><text class="t e" x="329" y="661">100%</text><text class="t" x="369" y="661">22-Mar-11 A</text></g>
<g id="r57"><text class="t" x="14" y="671">XP1560</text><text class="t" x="68" y="671">Request WSDOT Authorization and Agreement Letter</text><text class="t e" x="251" y="671">0</text><text class="t e" x="297" y="671">0.0d</text><text class="t e" x="329" y="671">100%</text><text class="t" x="369" y="671">10-Aug-11 A</text></g>
<g id="legend">
<rect class="bas" x="20" y="806" width="40" height="10" stroke-width="1"/>
<text class="lg" x="68" y="815">Primary Baseline</text>
<rect class="rem" x="162" y="806" width="40" height="10" stroke-width="1"/>
<text class="lg" x="210" y="815">Remaining Work</text>
<use href="#msl" x="340" y="811" fill="#000"/>
<use href="#msl" x="378" y="811" fill="#000"/>
<text class="lg" x="386" y="815">Milestone</text>
<rect class="act" x="20" y="828" width="40" height="10" stroke-width="1"/>
<text class="lg" x="68" y="837">Actual Work</text>
<rect class="crt" x="162" y="828" width="40" height="10" stroke-width="1"/>
<text class="lg" x="210" y="837">Critical Remaining Work</text>
</g>
<g id="footer">
<text class="lg c" x="781" y="809">Page 1 of 1</text>
<text class="lg" x="1042" y="809">TASK filter: All Activities</text>
<text class="lg e" x="1555" y="842">© Oracle Corporation</text>
</g>
</g>
</svg>
